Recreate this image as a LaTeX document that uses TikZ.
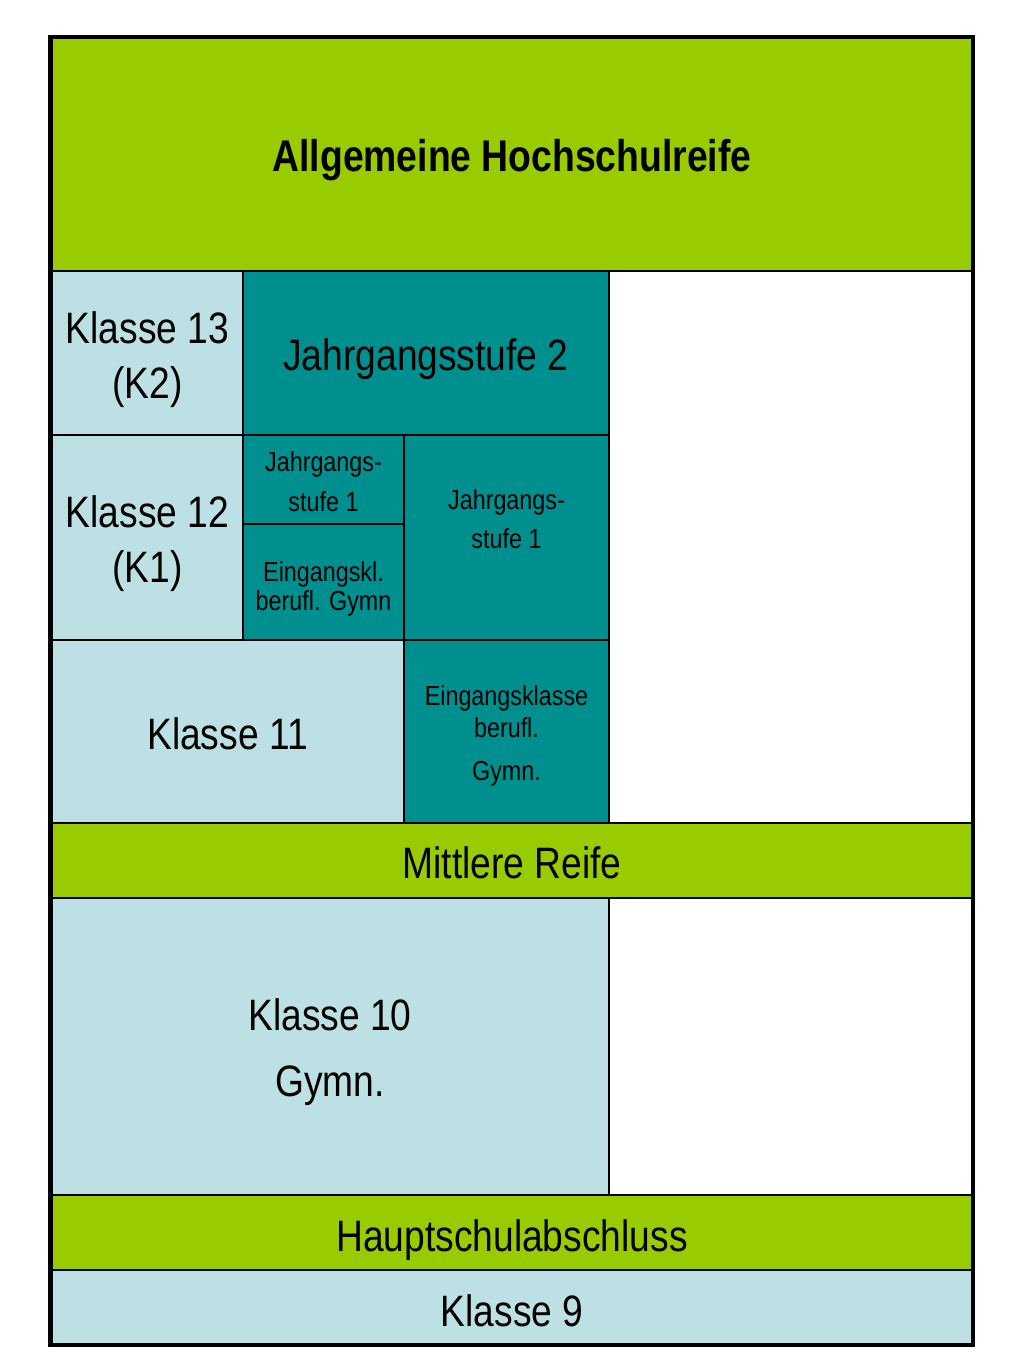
\documentclass[tikz,border=0pt]{standalone}
\usepackage{fontspec}
\setmainfont{Liberation Sans}[FakeStretch=0.845]
\newfontfamily\titlefont{Liberation Sans}[FakeStretch=0.84]
\definecolor{bandgreen}{RGB}{153,204,0}
\definecolor{tealcell}{RGB}{0,143,143}
\definecolor{lightcell}{RGB}{189,224,228}
\tikzset{
  cellline/.style={draw=black, line width=1pt},
  greencell/.style={cellline, fill=bandgreen},
  tealbox/.style={cellline, fill=tealcell},
  lightbox/.style={cellline, fill=lightcell},
  whitebox/.style={cellline, fill=white},
  bigtext/.style={anchor=base, inner sep=0pt, font=\fontsize{33}{40}\selectfont},
  smalltext/.style={anchor=base, inner sep=0pt, font=\fontsize{20.7}{25}\selectfont},
  titletext/.style={anchor=base, inner sep=0pt, font=\titlefont\bfseries\fontsize{33.3}{40}\selectfont},
}
\begin{document}
\begin{tikzpicture}[x=0.75pt, y=-0.75pt]
\useasboundingbox (0,0) rectangle (1024,1365);
\fill[white] (0,0) rectangle (1024,1365);
% cells
\path[greencell] (51,37.5) rectangle (972.5,271);
\path[lightbox] (51,271) rectangle (243,435);
\path[tealbox] (243,271) rectangle (609,435);
\path[whitebox] (609,271) rectangle (972.5,823);
\path[lightbox] (51,435) rectangle (243,640);
\path[tealbox] (243,435) rectangle (404,524);
\path[tealbox] (243,524) rectangle (404,640);
\path[tealbox] (404,435) rectangle (609,640);
\path[lightbox] (51,640) rectangle (404,823);
\path[tealbox] (404,640) rectangle (609,823);
\path[greencell] (51,823) rectangle (972.5,898);
\path[lightbox] (51,898) rectangle (609,1195);
\path[whitebox] (609,898) rectangle (972.5,1195);
\path[greencell] (51,1195) rectangle (972.5,1270);
\path[lightbox] (51,1270) rectangle (972.5,1345);
% outer frame
\draw[line width=3.2pt] (50.5,37.3) rectangle (973,1345.3);
% texts
\node[titletext] (title) at (512,171.5) {Allgemeine Hochschulreife};
\node[bigtext] (k13a) at (147.5,343.3) {Klasse 13};
\node[bigtext] (k13b) at (147.5,398.3) {(K2)};
\node[bigtext] (j2) at (426,370.7) {Jahrgangsstufe 2};
\node[bigtext] (k12a) at (147.5,527.5) {Klasse 12};
\node[bigtext] (k12b) at (147.5,582.5) {(K1)};
\node[smalltext] (jsa1) at (323.5,471) {Jahrgangs-};
\node[smalltext] (jsa2) at (323.5,511) {stufe 1};
\node[smalltext] (eka1) at (323.5,581) {Eingangskl.};
\node[smalltext] (eka2) at (323.5,610) {berufl. Gymn};
\node[smalltext] (jsb1) at (506.5,509) {Jahrgangs-};
\node[smalltext] (jsb2) at (506.5,548) {stufe 1};
\node[smalltext] (ekb1) at (506.5,705) {Eingangsklasse};
\node[smalltext] (ekb2) at (506.5,737) {berufl.};
\node[smalltext] (ekb3) at (506.5,780) {Gymn.};
\node[bigtext] (k11) at (227.5,749) {Klasse 11};
\node[bigtext] (mr) at (512,878) {Mittlere Reife};
\node[bigtext] (k10a) at (330,1030.7) {Klasse 10};
\node[bigtext] (k10b) at (330,1096.7) {Gymn.};
\node[bigtext] (hs) at (512,1251) {Hauptschulabschluss};
\node[bigtext] (k9) at (512,1326) {Klasse 9};
\end{tikzpicture}
\end{document}
